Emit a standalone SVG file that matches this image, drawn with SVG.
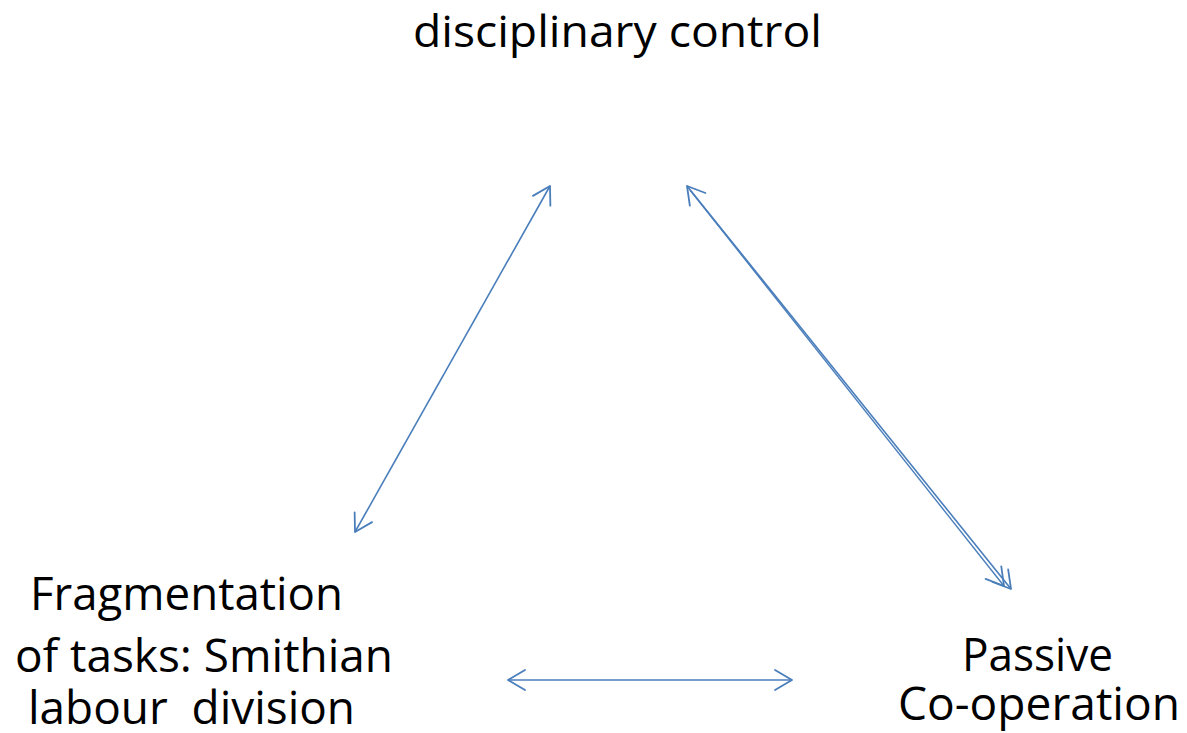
<svg xmlns="http://www.w3.org/2000/svg" width="1187" height="733" viewBox="0 0 1187 733">
<style>
.lbl{font-family:"Open Sans","Liberation Sans",sans-serif;fill:#000;}
.top{font-size:44px;}
.big{font-size:46px;}
.con{stroke:#4a7ebb;stroke-width:1.6;fill:none;marker-start:url(#ah);marker-end:url(#ah);}
</style>
<defs>
<marker id="ah" viewBox="-20 -12 22 24" refX="0" refY="0" markerWidth="22" markerHeight="24" markerUnits="userSpaceOnUse" orient="auto-start-reverse">
<path d="M-17,-10 L0,0 L-17,10" fill="none" stroke="#4a7ebb" stroke-width="1.8" stroke-linecap="round" stroke-linejoin="round"/>
</marker>
</defs>
<rect width="1187" height="733" fill="#fff"/>
<g id="node-control">
<text class="lbl top" x="413" y="47" textLength="409" lengthAdjust="spacingAndGlyphs">disciplinary control</text>
</g>
<g id="node-fragmentation">
<text class="lbl big" x="30" y="610" textLength="313" lengthAdjust="spacingAndGlyphs">Fragmentation</text>
<text class="lbl big" x="15" y="672" textLength="378" lengthAdjust="spacingAndGlyphs">of tasks: Smithian</text>
<text class="lbl big" x="28" y="724" textLength="327" lengthAdjust="spacingAndGlyphs" xml:space="preserve">labour  division</text>
</g>
<g id="node-passive">
<text class="lbl big" x="962" y="671" textLength="151" lengthAdjust="spacingAndGlyphs">Passive</text>
<text class="lbl big" x="898" y="720" textLength="282" lengthAdjust="spacingAndGlyphs">Co-operation</text>
</g>
<g id="connectors">
<line class="con" x1="550" y1="186" x2="355" y2="532"/>
<line class="con" x1="687" y1="186" x2="1011" y2="589"/>
<line x1="690" y1="190" x2="1004" y2="586" stroke="#4a7ebb" stroke-width="1.4" marker-end="url(#ah)"/>
<line class="con" x1="508" y1="680" x2="792" y2="680"/>
</g>
</svg>
